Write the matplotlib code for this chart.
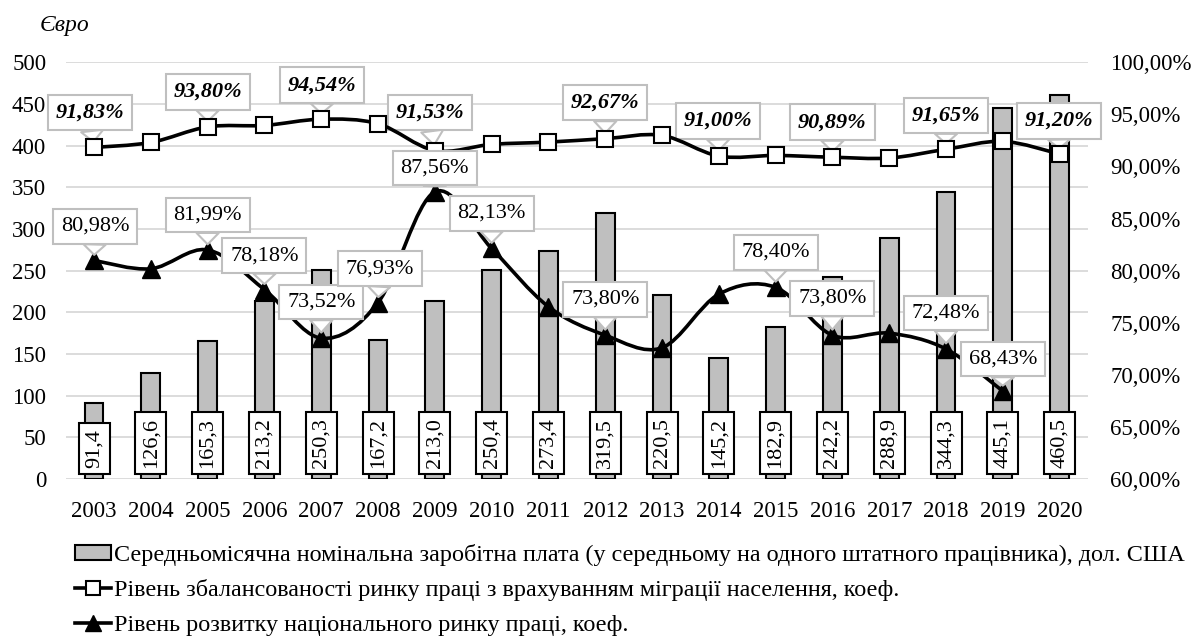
import matplotlib
matplotlib.use("Agg")
import matplotlib.pyplot as plt
from matplotlib.path import Path
from matplotlib.patches import PathPatch, Patch
from matplotlib.lines import Line2D
from matplotlib.ticker import FuncFormatter, MultipleLocator

years = [str(y) for y in range(2003, 2021)]
wages = [91.4, 126.6, 165.3, 213.2, 250.3, 167.2, 213.0, 250.4, 273.4,
         319.5, 220.5, 145.2, 182.9, 242.2, 288.9, 344.3, 445.1, 460.5]
balance = [91.83, 92.31, 93.80, 93.94, 94.54, 94.10, 91.53, 92.12, 92.34,
           92.67, 92.98, 91.00, 91.06, 90.89, 90.81, 91.65, 92.41, 91.20]
development = [80.98, 80.18, 81.99, 78.18, 73.52, 76.93, 87.56, 82.13, 76.54,
               73.80, 72.60, 77.74, 78.40, 73.80, 74.00, 72.48, 68.43]

# which points carry a callout, and where the box sits (pixel offset)
balance_callouts = {"2003": (-4, 35), "2005": (0, 35), "2007": (1, 34), "2009": (-5, 38),
                    "2012": (0, 36), "2014": (-1, 35), "2016": (0, 35), "2018": (0, 34),
                    "2020": (-1, 33)}
development_callouts = {"2003": (1, 34), "2005": (0, 35), "2006": (0, 34), "2007": (0, 36),
                        "2008": (2, 34), "2009": (0, 24), "2010": (0, 35), "2012": (0, 36),
                        "2015": (0, 35), "2016": (0, 37), "2018": (0, 36), "2019": (0, 32)}

label_bar = "Середньомісячна номінальна заробітна плата (у середньому на одного штатного працівника), дол. США"
label_balance = "Рівень збалансованості ринку праці з врахуванням міграції населення, коеф."
label_development = "Рівень розвитку національного ринку праці, коеф."

plt.rcParams["font.serif"] = ["Liberation Serif", "DejaVu Serif"]
plt.rcParams["font.family"] = "serif"


def smooth_path(xs, ys):
    # cubic bezier through the points (excel-style smoothed line)
    pts = list(zip(xs, ys))
    verts = [pts[0]]
    codes = [Path.MOVETO]
    n = len(pts)
    for i in range(n - 1):
        p0 = pts[i - 1] if i > 0 else pts[i]
        p1 = pts[i]
        p2 = pts[i + 1]
        p3 = pts[i + 2] if i + 2 < n else pts[i + 1]
        c1 = (p1[0] + (p2[0] - p0[0]) / 6, p1[1] + (p2[1] - p0[1]) / 6)
        c2 = (p2[0] - (p3[0] - p1[0]) / 6, p2[1] - (p3[1] - p1[1]) / 6)
        verts += [c1, c2, p2]
        codes += [Path.CURVE4] * 3
    return Path(verts, codes)


def pct(v):
    return f"{v:.2f}%".replace(".", ",")


fig = plt.figure(figsize=(11.96, 6.39), dpi=100)
ax = fig.add_axes([0.0549, 0.2504, 0.9097 - 0.0549, 0.9025 - 0.2504])
ax2 = ax.twinx()

x = list(range(len(years)))

ax.bar(x, wages, width=0.33, color="#bfbfbf", edgecolor="black", linewidth=1.5, zorder=2)
for xi, w in zip(x, wages):
    ax.text(xi, 13, f"{w:.1f}".replace(".", ","), rotation=90, ha="center", va="bottom",
            fontsize=16, zorder=6,
            bbox=dict(boxstyle="square,pad=0.27", fc="white", ec="black", lw=1.5))

ax.set_ylim(0, 500)
ax.set_xlim(-0.5, len(years) - 0.5)
ax.yaxis.set_major_locator(MultipleLocator(50))
ax.set_xticks(x)
ax.set_xticklabels(years)
ax.grid(axis="y", color="#d9d9d9", linewidth=1.3, zorder=0)
ax.set_axisbelow(True)
ax.tick_params(axis="both", length=0, labelsize=16.5)
ax.tick_params(axis="y", pad=14)
ax.tick_params(axis="x", pad=16)
for s in ax.spines.values():
    s.set_visible(False)

ax2.set_ylim(60, 100)
ax2.yaxis.set_major_locator(MultipleLocator(5))
ax2.yaxis.set_major_formatter(FuncFormatter(lambda v, p: pct(v)))
ax2.tick_params(axis="y", length=0, labelsize=16.5, pad=16)
for s in ax2.spines.values():
    s.set_visible(False)

ax2.add_patch(PathPatch(smooth_path(x, balance), fc="none", ec="black", lw=2.6, zorder=3))
ax2.plot(x, balance, ls="none", marker="s", ms=12, mfc="white", mec="black", mew=1.5, zorder=4)

xd = x[:len(development)]
ax2.add_patch(PathPatch(smooth_path(xd, development), fc="none", ec="black", lw=2.6, zorder=3))
ax2.plot(xd, development, ls="none", marker="^", ms=13, color="black", zorder=4)

wedge = dict(arrowstyle="wedge,tail_width=1.0,shrink_factor=0.5", fc="white", ec="#bfbfbf",
             lw=1.5, shrinkA=0, shrinkB=4)
box = dict(boxstyle="square,pad=0.35", fc="white", ec="#bfbfbf", lw=1.5)

# balance callouts: above the bars, under the lines
for yr, (dx, dy) in balance_callouts.items():
    i = years.index(yr)
    ax2.annotate(pct(balance[i]), xy=(i, balance[i]),
                 xytext=(dx, dy), textcoords="offset pixels", ha="center", va="center",
                 fontsize=16, fontweight="bold", fontstyle="italic",
                 bbox=box, arrowprops=wedge, zorder=2.5)

for yr, (dx, dy) in development_callouts.items():
    i = years.index(yr)
    ax2.annotate(pct(development[i]), xy=(i, development[i]),
                 xytext=(dx, dy), textcoords="offset pixels", ha="center", va="center",
                 fontsize=16, bbox=box, arrowprops=wedge, zorder=5)

fig.text(40 / 1196, 1 - 26 / 639, "Євро", fontsize=17, fontstyle="italic", va="center")

handles = [
    Patch(fc="#bfbfbf", ec="black", lw=1.5),
    Line2D([], [], color="black", lw=2.6, marker="s", ms=10, mfc="white", mec="black", mew=1.5),
    Line2D([], [], color="black", lw=2.6, marker="^", ms=11),
]
fig.legend(handles, [label_bar, label_balance, label_development], loc="upper left",
           bbox_to_anchor=(75 / 1196, 1 - 544 / 639), frameon=False, fontsize=17.4,
           handlelength=1.5, handleheight=0.55, handletextpad=0.1, labelspacing=0.55,
           borderpad=0, borderaxespad=0)

fig.savefig("out.png", dpi=100)
